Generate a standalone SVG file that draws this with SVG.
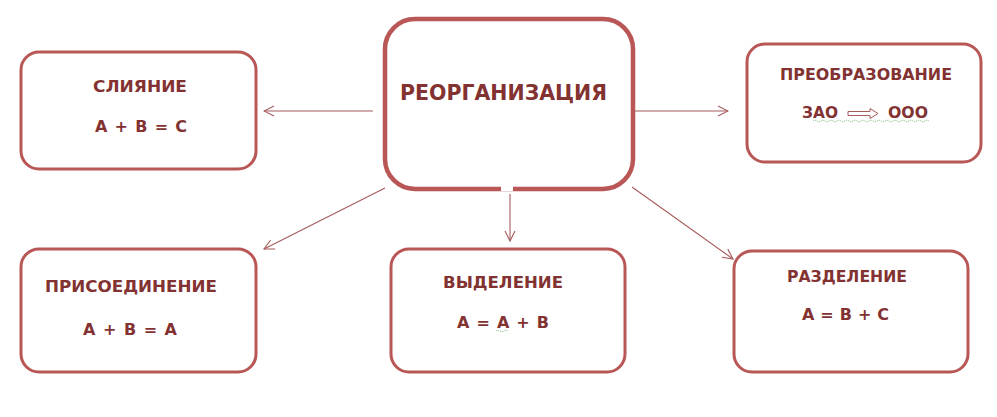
<svg xmlns="http://www.w3.org/2000/svg" width="997" height="417" viewBox="0 0 997 417">
<style>
.box{fill:#fff;stroke:#B95656;stroke-width:3}
.main{fill:#fff;stroke:#B95656;stroke-width:4.5}
.t{font-family:"DejaVu Sans","Liberation Sans",sans-serif;font-weight:bold;fill:#833232;font-size:15px}
.f{font-size:16px}
.title{font-size:22px}
.c{fill:none;stroke:#A65A5A;stroke-width:1.1}
.sq{fill:none;stroke:#6FB36F;stroke-width:0.9;stroke-dasharray:1.2 1}
</style>
<defs>
<marker id="ah" viewBox="0 0 12 12" refX="11" refY="6" markerWidth="12" markerHeight="12" markerUnits="userSpaceOnUse" orient="auto">
<path d="M1,1 L11,6 L1,11" fill="none" stroke="#A65A5A" stroke-width="1.1"/>
</marker>
</defs>
<rect width="997" height="417" fill="#fff"/>
<g id="connectors">
<line class="c" x1="373" y1="111" x2="264" y2="111" marker-end="url(#ah)"/>
<line class="c" x1="635" y1="111" x2="728" y2="111" marker-end="url(#ah)"/>
<line class="c" x1="385" y1="188" x2="264" y2="249" marker-end="url(#ah)"/>
<line class="c" x1="510" y1="194" x2="510" y2="241" marker-end="url(#ah)"/>
<line class="c" x1="632" y1="187" x2="733" y2="259" marker-end="url(#ah)"/>
</g>
<g id="reorg">
<rect class="main" x="385" y="19" width="248" height="170" rx="30"/>
<rect x="501" y="186" width="12" height="5" fill="#fff"/>
<text class="t title" x="400" y="100" textLength="207" lengthAdjust="spacingAndGlyphs">РЕОРГАНИЗАЦИЯ</text>
</g>
<g id="sliyanie">
<rect class="box" x="21" y="52" width="235" height="117" rx="18"/>
<text class="t" x="93" y="92" textLength="94" lengthAdjust="spacingAndGlyphs">СЛИЯНИЕ</text>
<text class="t f" x="95" y="132" textLength="92" lengthAdjust="spacing">A + B = C</text>
</g>
<g id="preobr">
<rect class="box" x="747" y="44" width="234" height="118" rx="18"/>
<text class="t" x="780" y="80" textLength="172" lengthAdjust="spacingAndGlyphs">ПРЕОБРАЗОВАНИЕ</text>
<text class="t" x="802" y="118" textLength="36" lengthAdjust="spacingAndGlyphs">ЗАО</text>
<path d="M848,111.5 H870 V108.5 L878,113.5 L870,118.5 V115.5 H848 Z" fill="#fff" stroke="#A65A5A" stroke-width="1"/>
<text class="t" x="888" y="118" textLength="40" lengthAdjust="spacingAndGlyphs">ООО</text>
<path class="sq" d="M813,121 Q815,119.5 817,121 T821,121 T825,121 T829,121 T833,121 T837,121 T841,121 T845,121 T849,121 T853,121 T857,121 T861,121 T865,121 T869,121 T873,121 T877,121 T881,121 T885,121 T889,121 T893,121 T897,121 T901,121 T905,121 T909,121 T913,121 T917,121 T921,121 T925,121 T929,121"/>
</g>
<g id="prisoed">
<rect class="box" x="21" y="249" width="235" height="123" rx="18"/>
<text class="t" x="45" y="292" textLength="172" lengthAdjust="spacingAndGlyphs">ПРИСОЕДИНЕНИЕ</text>
<text class="t f" x="83" y="335" textLength="94" lengthAdjust="spacing">A + B = A</text>
</g>
<g id="vydelenie">
<rect class="box" x="391" y="249" width="234" height="123" rx="18"/>
<text class="t" x="443" y="288" textLength="120" lengthAdjust="spacingAndGlyphs">ВЫДЕЛЕНИЕ</text>
<text class="t f" x="457" y="328" textLength="92" lengthAdjust="spacing">A = A + B</text>
<path class="sq" d="M496,331 Q498,329.5 500,331 T504,331 T508,331"/>
</g>
<g id="razdelenie">
<rect class="box" x="734" y="251" width="234" height="121" rx="18"/>
<text class="t" x="787" y="282" textLength="120" lengthAdjust="spacingAndGlyphs">РАЗДЕЛЕНИЕ</text>
<text class="t f" x="802" y="320" textLength="87" lengthAdjust="spacing">A = B + C</text>
</g>
</svg>
